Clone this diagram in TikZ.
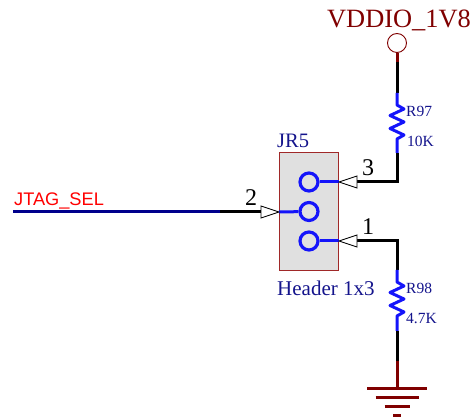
\documentclass[tikz,border=0pt]{standalone}
\usepackage{fontspec}
\setmainfont{Liberation Serif}
\setsansfont{Liberation Sans}
\definecolor{pinblue}{RGB}{20,20,250}
\definecolor{wirenavy}{RGB}{0,0,140}
\definecolor{textnavy}{RGB}{20,20,140}
\definecolor{darkred}{RGB}{128,0,0}
\definecolor{boxfill}{RGB}{224,224,224}
\definecolor{boxedge}{RGB}{160,40,40}
\tikzset{
    wire/.style={line width=3pt, black},
    pinwire/.style={line width=3pt, pinblue},
    redwire/.style={line width=3pt, darkred},
    pinhole/.style={draw=pinblue, circle, line width=3.2pt, minimum size=18pt, inner sep=0pt},
    pintip/.style={draw=black, fill=white, line width=0.8pt},
    pinnum/.style={font=\fontsize{24}{24}\selectfont, text=black, inner sep=0pt},
    partlabel/.style={font=\fontsize{15.5}{15.5}\selectfont, text=textnavy, inner sep=0pt, anchor=west},
}
\begin{document}
\begin{tikzpicture}[x=1pt, y=-1pt]
    \useasboundingbox (0, 0) rectangle (475, 419);

    \node[draw=boxedge, fill=boxfill, line width=1pt, minimum width=59pt, minimum height=118pt, inner sep=0pt] (jr5) at (308.5, 212) {};
    \node[pinhole] (pin3) at (309, 182) {};
    \node[pinhole] (pin2) at (309, 211.5) {};
    \node[pinhole] (pin1) at (309, 241) {};
    \node[draw=darkred, fill=white, circle, line width=0.9pt, minimum size=19pt, inner sep=0pt] (vcc) at (397, 43) {};

    \coordinate (jtag_l) at (13, 212);
    \coordinate (jtag_m) at (220, 212);
    \coordinate (tip2) at (261, 212);
    \coordinate (tip2_e) at (279, 212);
    \coordinate (tip3) at (357, 182);
    \coordinate (tip3_e) at (339, 182);
    \coordinate (tip1) at (357, 241);
    \coordinate (tip1_e) at (339, 241);
    \coordinate (vcc_w) at (397, 62);
    \coordinate (r97_t) at (397, 93);
    \coordinate (r97_b) at (397, 153);
    \coordinate (corner3) at (397, 182);
    \coordinate (corner1) at (397, 241);
    \coordinate (r98_t) at (397, 270);
    \coordinate (r98_b) at (397, 331);
    \coordinate (gnd_w) at (397, 361);
    \coordinate (gnd) at (397, 389);

    % top rail
    \draw[redwire] (vcc) -- (vcc_w);
    \draw[wire] (vcc_w) -- (r97_t);
    \draw[pinwire, line join=round] (r97_t) -- ++(0, 12) -- ++(7, 4) -- ++(-14, 6.5) -- ++(14, 6.5) -- ++(-14, 6.5) -- ++(14, 6.5) -- ++(-7, 4) -- (r97_b);
    \draw[wire, line join=miter] (r97_b) -- (corner3) -- (tip3);

    % bottom rail
    \draw[wire, line join=miter] (tip1) -- (corner1) -- (r98_t);
    \draw[pinwire, line join=round] (r98_t) -- ++(0, 12) -- ++(7, 4) -- ++(-14, 6.5) -- ++(14, 6.5) -- ++(-14, 6.5) -- ++(14, 6.5) -- ++(-7, 4) -- (r98_b);
    \draw[wire] (r98_b) -- (gnd_w);
    \draw[redwire] (gnd_w) -- (gnd);

    % ground bars
    \draw[redwire] ([xshift=-30pt]gnd) -- ([xshift=30pt]gnd);
    \draw[redwire] ([xshift=-21.5pt, yshift=-9pt]gnd) -- ([xshift=21.5pt, yshift=-9pt]gnd);
    \draw[redwire] ([xshift=-12.5pt, yshift=-18pt]gnd) -- ([xshift=12.5pt, yshift=-18pt]gnd);
    \draw[redwire] ([xshift=-4pt, yshift=-27pt]gnd) -- ([xshift=4pt, yshift=-27pt]gnd);

    % jtag wire
    \draw[line width=3pt, wirenavy] (jtag_l) -- (jtag_m);
    \draw[wire] (jtag_m) -- (tip2);

    % pin stubs and tips
    \draw[pinwire] (pin3) -- (tip3_e);
    \draw[pinwire] (pin2) -- (tip2_e);
    \draw[pinwire] (pin1) -- (tip1_e);
    \draw[pintip] (tip3_e) -- ([yshift=-6pt]tip3) -- ([yshift=6pt]tip3) -- cycle;
    \draw[pintip] (tip1_e) -- ([yshift=-6pt]tip1) -- ([yshift=6pt]tip1) -- cycle;
    \draw[pintip] (tip2_e) -- ([yshift=-6pt]tip2) -- ([yshift=6pt]tip2) -- cycle;

    \node[font=\fontsize{26.4}{26.4}\selectfont, text=darkred, inner sep=0pt] (vcc_lbl) at (399, 20) {VDDIO\_1V8};
    \node[font=\sffamily\fontsize{18.2}{18.2}\selectfont, text=red, inner sep=0pt, anchor=west] (jtag_lbl) at (14, 201) {JTAG\_SEL};
    \node[font=\fontsize{20.5}{20.5}\selectfont, text=textnavy, inner sep=0pt, anchor=west] (jr5_lbl) at (277, 141) {JR5};
    \node[font=\fontsize{21}{21}\selectfont, text=textnavy, inner sep=0pt, anchor=west] (hdr_lbl) at (277, 288) {Header 1x3};
    \node[pinnum] (num3) at (368, 168) {3};
    \node[pinnum] (num2) at (251, 198) {2};
    \node[pinnum] (num1) at (368, 227) {1};
    \node[partlabel] (r97_name) at (406, 111) {R97};
    \node[partlabel] (r97_val) at (407, 141) {10K};
    \node[partlabel] (r98_name) at (406, 288) {R98};
    \node[partlabel] (r98_val) at (406, 319) {4.7K};
\end{tikzpicture}
\end{document}
